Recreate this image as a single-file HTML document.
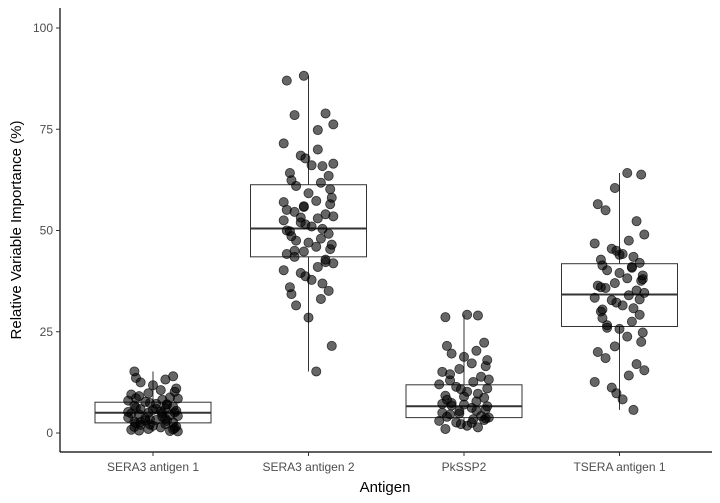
<!DOCTYPE html>
<html><head><meta charset="utf-8"><style>
body{margin:0;background:#fff;}
svg{display:block;font-family:"Liberation Sans",Arial,sans-serif;}
</style></head><body>
<svg id="chart" width="720" height="503" viewBox="0 0 720 503">
<g id="boxes"></g>
<g id="points"></g>
<g id="axes"></g>
<text x="385" y="492" font-size="15" text-anchor="middle" fill="#000">Antigen</text>
<text transform="translate(21,230) rotate(-90)" font-size="15" text-anchor="middle" fill="#000">Relative Variable Importance (%)</text>
</svg>
<script>
const categories=["SERA3 antigen 1","SERA3 antigen 2","PkSSP2","TSERA antigen 1"];
const yTicks=[0,25,50,75,100];
const boxQ1=[2.5,43.5,3.8,26.3];
const boxMed=[5.0,50.5,6.6,34.2];
const boxQ3=[7.6,61.3,11.9,41.8];
const whiskLo=[0.3,15.2,1.0,5.7];
const whiskHi=[15.2,88.2,29.2,64.2];
const pts0=[15.2,14.0,13.6,13.2,12.5,11.8,11.0,10.6,10.2,9.8,9.5,9.1,8.8,8.5,8.2,8.0,7.7,7.4,7.2,7.0,6.8,6.5,6.3,6.1,5.9,5.7,5.5,5.3,5.1,5.0,4.8,4.6,4.4,4.2,4.0,3.8,3.6,3.4,3.2,3.0,2.8,2.6,2.4,2.2,2.0,1.8,1.6,1.4,1.2,1.0,0.8,0.6,0.5,0.4,4.9,5.2,3.1,2.1,6.0,7.1,1.5,0.9,8.6,3.5,2.7];
const pts1=[88.2,87.0,78.5,78.9,76.2,74.8,71.5,68.5,67.8,66.1,65.9,64.2,63.5,62.4,61.8,61.0,59.2,58.1,57.3,56.5,55.8,55.1,54.6,54.0,53.5,53.0,52.5,52.0,51.5,51.0,50.4,49.8,49.2,48.6,48.0,47.5,47.0,46.5,46.0,45.4,44.8,44.2,43.5,42.8,41.9,41.0,40.2,39.5,38.7,37.8,36.9,36.0,35.1,34.3,33.1,31.5,28.5,21.5,15.2,60.2,56.0,50.0,45.0,42.2,66.5,70.0,57.0,53.2];
const pts2=[29.2,29.0,28.6,22.3,21.5,20.3,19.6,18.8,18.0,17.2,16.5,15.8,15.1,14.5,13.9,13.2,12.6,12.0,11.4,10.8,10.2,9.7,9.2,8.7,8.2,7.8,7.4,7.0,6.6,6.2,5.8,5.4,5.0,4.6,4.2,3.8,3.4,3.0,2.6,2.2,1.8,1.4,1.0,3.2,4.0,5.5,6.8,9.0,11.0,2.5,3.6,4.8,7.2,13.0];
const pts3=[64.2,63.8,60.5,56.5,55.0,52.3,49.0,47.5,46.8,45.5,45.0,44.2,43.5,42.8,42.0,41.4,40.8,40.2,39.5,38.9,38.2,37.6,37.0,36.4,35.8,35.2,34.6,34.0,33.4,32.8,32.2,31.5,30.8,30.0,29.2,28.4,27.5,26.6,25.7,24.8,23.8,22.5,21.4,20.0,18.5,17.0,15.5,14.2,12.6,11.2,9.8,8.3,5.7,36.0,33.0,30.5,41.0,26.0,44.0,38.0];
const jitter=[-0.12,0.08,0.15,-0.03,0.11,-0.16,0.02,0.13,-0.08,0.05,-0.14,0.16,-0.05,0.09,-0.11,0.0,0.14,-0.09,0.06,-0.02];
const groups=[pts0,pts1,pts2,pts3];

const NS="http://www.w3.org/2000/svg";
function x(i){return 153+i*155.5;}
function y(v){return 433-4.05*v;}
function mk(tag,parent,attrs){const e=document.createElementNS(NS,tag);for(const k in attrs)e.setAttribute(k,attrs[k]);parent.appendChild(e);return e;}
const gb=document.getElementById('boxes'),gp=document.getElementById('points'),ga=document.getElementById('axes');
const hw=58;
categories.forEach((c,i)=>{
  const cx=x(i);
  let w=mk('line',gb,{x1:cx,x2:cx,y1:y(whiskHi[i]),y2:y(boxQ3[i]),stroke:'#333','stroke-width':1});
  
  
  w=mk('line',gb,{x1:cx,x2:cx,y1:y(boxQ1[i]),y2:y(whiskLo[i]),stroke:'#333','stroke-width':1});
  
  
  const r=mk('rect',gb,{x:cx-hw,y:y(boxQ3[i]),width:hw*2,height:y(boxQ1[i])-y(boxQ3[i]),fill:'#fff',stroke:'#333','stroke-width':1});
  
  
  const m=mk('line',gb,{x1:cx-hw,x2:cx+hw,y1:y(boxMed[i]),y2:y(boxMed[i]),stroke:'#333','stroke-width':2});
  
  
});
groups.forEach((arr,i)=>{
  arr.forEach((v,k)=>{
    const c=mk('circle',gp,{cx:x(i)+jitter[(k*7+i*3)%jitter.length]*155,cy:y(v),r:4.6,fill:'rgba(0,0,0,0.6)',stroke:'rgba(0,0,0,0.7)','stroke-width':0.8});
    
    
  });
});
let a=mk('line',ga,{x1:60,x2:60,y1:8,y2:452,stroke:'#000','stroke-width':1.2});


a=mk('line',ga,{x1:60,x2:712,y1:452,y2:452,stroke:'#000','stroke-width':1.2});


yTicks.forEach(t=>{
  const l=mk('line',ga,{x1:56,x2:60,y1:y(t),y2:y(t),stroke:'#333'});
  
  
  const tx=mk('text',ga,{x:53,y:y(t)+4,'font-size':12,'text-anchor':'end',fill:'#4d4d4d'});
  tx.textContent=t;
  
  
});
categories.forEach((c,i)=>{
  const l=mk('line',ga,{x1:x(i),x2:x(i),y1:452,y2:456,stroke:'#333'});
  
  
  const tx=mk('text',ga,{x:x(i),y:471,'font-size':12,'text-anchor':'middle',fill:'#4d4d4d'});
  tx.textContent=c;
  
  
});
</script>
</body></html>
